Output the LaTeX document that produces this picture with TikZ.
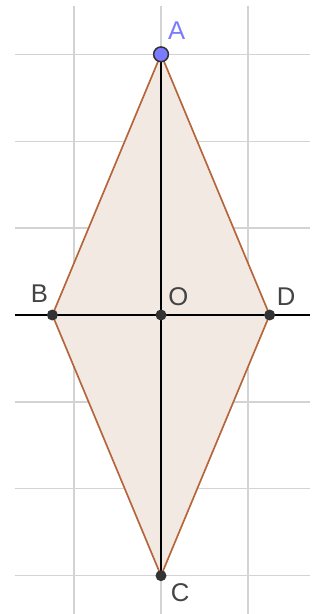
\documentclass[tikz,border=0pt]{standalone}
\usepackage{fontspec}
\setmainfont{Liberation Sans}
\usepackage{tikz}
\usepackage{xcolor}
\definecolor{gridgray}{HTML}{D3D3D3}
\definecolor{rhombfill}{HTML}{F3E9E3}
\definecolor{rhombedge}{HTML}{B5653A}
\definecolor{ptblue}{HTML}{7B7BFF}
\definecolor{ptdark}{HTML}{333333}
\definecolor{lbldark}{HTML}{444444}
\tikzset{
  gridline/.style={gridgray, line width=0.45pt},
  ptdot/.style={circle, fill=ptdark, draw=black!80, line width=0.3pt, inner sep=0pt, minimum size=0.115cm},
  ptbig/.style={circle, fill=ptblue, draw=black!80, line width=0.5pt, inner sep=0pt, minimum size=0.17cm},
  ptlabel/.style={font=\fontsize{8.4}{10}\selectfont, text=lbldark, inner sep=0pt}
}

\begin{document}
\begin{tikzpicture}[x=1cm,y=1cm]
\useasboundingbox (-1.853,-3.441) rectangle (1.853,3.625);
\fill[white] (-1.853,-3.441) rectangle (1.853,3.625);
% grid
\foreach \gx in {-1,0,1}
  \draw[gridline] (\gx,3.56) -- (\gx,-3.441);
\foreach \gy in {-3,...,3}
  \draw[gridline] (-1.68,\gy) -- (1.72,\gy);
% points
\coordinate (A) at (0,3);
\coordinate (B) at (-1.25,0);
\coordinate (C) at (0,-3);
\coordinate (D) at (1.25,0);
\coordinate (O) at (0,0);
\coordinate (axl) at (-1.68,0);
\coordinate (axr) at (1.72,0);
% rhombus
\fill[rhombfill] (A) -- (B) -- (C) -- (D) -- cycle;
\draw[rhombedge, line width=0.55pt, line join=round] (A) -- (B) -- (C) -- (D) -- cycle;
% diagonals
\draw[black, line width=0.5pt] (axl) -- (axr);
\draw[black, line width=0.5pt] (A) -- (C);
% dots
\node[ptdot] (dotB) at (B) {};
\node[ptdot] (dotC) at (C) {};
\node[ptdot] (dotD) at (D) {};
\node[ptdot] (dotO) at (O) {};
\node[ptbig] (dotA) at (A) {};
% labels
\node[ptlabel, text=ptblue] (labA) at (0.18,3.27) {A};
\node[ptlabel] (labB) at (-1.40,0.24) {B};
\node[ptlabel] (labO) at (0.20,0.21) {O};
\node[ptlabel] (labD) at (1.44,0.21) {D};
\node[ptlabel] (labC) at (0.22,-3.20) {C};
\end{tikzpicture}
\end{document}
